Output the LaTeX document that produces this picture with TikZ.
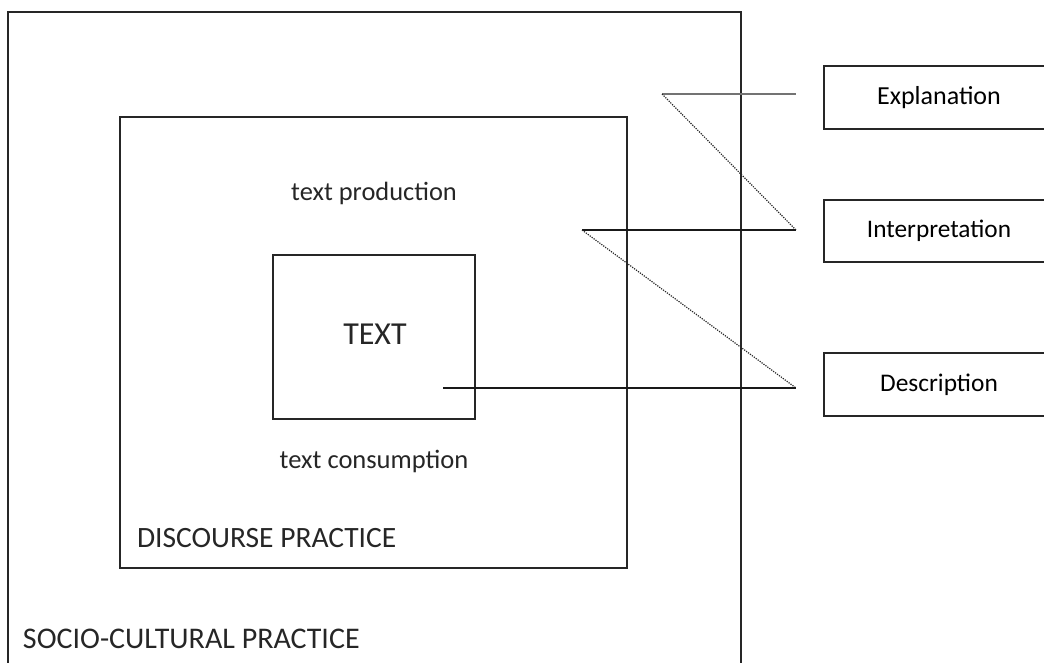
\documentclass[tikz,border=0pt]{standalone}
\usepackage{fontspec}
\setmainfont{Carlito}
\begin{document}
\begin{tikzpicture}[x=1pt,y=-1pt,
  box/.style={draw=black!85, line width=1.5pt, inner sep=0pt, outer sep=0pt, rectangle},
  lbl/.style={inner sep=0pt, outer sep=0pt, text=black!85},
  solidlink/.style={draw=black!90, line width=1.3pt},
  graylink/.style={draw=black!55, line width=2pt},
  dotlink/.style={draw=black!85, line width=1.2pt, dash pattern=on 1.2pt off 1.2pt}]
\useasboundingbox (0,0) rectangle (1044,662);
\clip (0,0) rectangle (1044,662);
% boxes
\node[box, minimum width=733pt, minimum height=668pt] (socio) at (374.5,346) {};
\node[box, minimum width=507pt, minimum height=451pt] (discourse) at (373.5,342.5) {};
\node[box, minimum width=202pt, minimum height=164pt] (textbox) at (374,337) {};
\node[box, minimum width=230pt, minimum height=63pt, font=\fontsize{26}{30}\selectfont] (expl) at (939,97.5) {Explanation};
\node[box, minimum width=230pt, minimum height=62pt, font=\fontsize{25.3}{30}\selectfont] (interp) at (939,231) {Interpretation};
\node[box, minimum width=230pt, minimum height=63pt, font=\fontsize{25.4}{30}\selectfont] (desc) at (939,384.5) {Description};
% labels
\node[lbl, anchor=base, font=\fontsize{26.4}{30}\selectfont] (prod) at (374,200) {text production};
\node[lbl, anchor=base, font=\fontsize{32}{36}\selectfont] (textlbl) at (375,344) {TEXT};
\node[lbl, anchor=base, font=\fontsize{26.5}{30}\selectfont] (cons) at (374,468) {text consumption};
\node[lbl, anchor=base west, font=\fontsize{29.5}{34}\selectfont] (dplbl) at (137,547) {DISCOURSE PRACTICE};
\node[lbl, anchor=base west, font=\fontsize{30}{34}\selectfont] (sclbl) at (23,648) {SOCIO-CULTURAL PRACTICE};
% connector points
\coordinate (e1) at (662,94);
\coordinate (e2) at (796,94);
\coordinate (i1) at (582,230);
\coordinate (i2) at (796,230);
\coordinate (d1) at (443,388);
\coordinate (d2) at (796,388);
% connectors
\draw[graylink] (e1) -- (e2);
\draw[dotlink] (e1) -- (i2);
\draw[solidlink] (i1) -- (i2);
\draw[dotlink] (i1) -- (d2);
\draw[solidlink] (d1) -- (d2);
\end{tikzpicture}
\end{document}
